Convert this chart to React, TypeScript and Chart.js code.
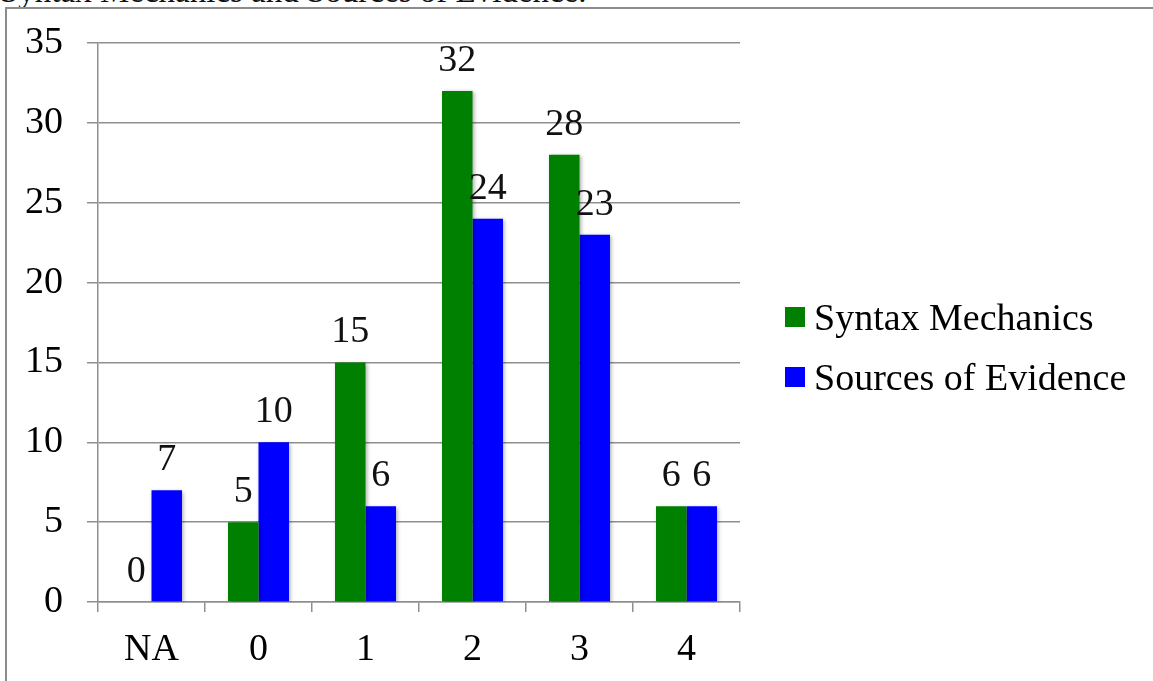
import React, { useEffect, useRef } from "react";
import { Chart, registerables } from "chart.js";

Chart.register(...registerables);

// Categories along the x axis and the two series plotted against them
const categories = ["NA", "0", "1", "2", "3", "4"];
const syntaxMechanics = [0, 5, 15, 32, 28, 6];
const sourcesOfEvidence = [7, 10, 6, 24, 23, 6];
const seriesNames = ["Syntax Mechanics", "Sources of Evidence"];
const seriesColors = ["#008000", "#0000ff"];
const yMin = 0;
const yMax = 35;
const yStep = 5;

const FONT_FAMILY = "'Liberation Serif', 'Times New Roman', serif";
const GRID = "#8f8f8f";

// Soft drop shadow behind the bars
const barShadow = {
  id: "barShadow",
  beforeDatasetsDraw(chart: any) {
    const ctx = chart.ctx;
    ctx.save();
    ctx.shadowColor = "rgba(0,0,0,0.35)";
    ctx.shadowBlur = 4;
    ctx.shadowOffsetX = 1.5;
    ctx.shadowOffsetY = 1.5;
  },
  afterDatasetsDraw(chart: any) {
    chart.ctx.restore();
  },
};

// Value written above every bar
const valueLabels = {
  id: "valueLabels",
  afterDraw(chart: any) {
    const ctx = chart.ctx;
    ctx.save();
    ctx.font = `38px ${FONT_FAMILY}`;
    ctx.fillStyle = "#111";
    ctx.textAlign = "center";
    ctx.textBaseline = "alphabetic";
    chart.data.datasets.forEach((ds: any, i: number) => {
      const meta = chart.getDatasetMeta(i);
      meta.data.forEach((el: any, j: number) => {
        ctx.fillText(String(ds.data[j]), el.x, el.y - 20);
      });
    });
    ctx.restore();
  },
};

function BarChart() {
  const canvasRef = useRef<HTMLCanvasElement | null>(null);

  useEffect(() => {
    if (!canvasRef.current) return;
    const chart = new Chart(canvasRef.current, {
      type: "bar",
      data: {
        labels: categories,
        datasets: [
          {
            label: seriesNames[0],
            data: syntaxMechanics,
            backgroundColor: seriesColors[0],
            categoryPercentage: 0.57,
            barPercentage: 1,
          },
          {
            label: seriesNames[1],
            data: sourcesOfEvidence,
            backgroundColor: seriesColors[1],
            categoryPercentage: 0.57,
            barPercentage: 1,
          },
        ],
      },
      options: {
        responsive: false,
        animation: false,
        devicePixelRatio: 1,
        layout: { padding: { left: 0, right: 413, top: 43, bottom: 0 } },
        plugins: {
          legend: { display: false },
          tooltip: { enabled: false },
          title: { display: false },
        },
        scales: {
          x: {
            grid: {
              display: true,
              drawOnChartArea: false,
              drawTicks: true,
              tickLength: 10,
              color: GRID,
              lineWidth: 1.5,
              offset: true,
            },
            border: { display: true, color: GRID, width: 1.5 },
            ticks: {
              color: "#000",
              padding: 15,
              font: { family: FONT_FAMILY, size: 38 },
            },
            afterFit: (s: any) => {
              s.height = 79;
            },
          },
          y: {
            min: yMin,
            max: yMax,
            ticks: {
              stepSize: yStep,
              color: "#000",
              padding: 24,
              font: { family: FONT_FAMILY, size: 38 },
            },
            grid: { color: GRID, lineWidth: 1.5, tickLength: 11, drawTicks: true },
            border: { display: true, color: GRID, width: 1.5 },
            afterFit: (s: any) => {
              s.width = 98;
              s.paddingTop = 20;
              s.paddingBottom = 20;
            },
          },
        },
      },
      plugins: [barShadow, valueLabels],
    });
    return () => chart.destroy();
  }, []);

  return (
    <canvas
      ref={canvasRef}
      width={1153}
      height={681}
      style={{ position: "absolute", left: 0, top: 0, width: 1153, height: 681 }}
    />
  );
}

export default function App() {
  return (
    <div
      style={{
        position: "absolute",
        left: 0,
        top: 0,
        width: 1153,
        height: 681,
        overflow: "hidden",
        background: "#fff",
        fontFamily: FONT_FAMILY,
      }}
    >
      <div
        style={{
          position: "absolute",
          left: 0,
          top: -25,
          fontSize: 33,
          lineHeight: "32px",
          whiteSpace: "nowrap",
          color: "#111",
        }}
      >
        Syntax Mechanics and Sources of Evidence.
      </div>
      <div
        style={{
          position: "absolute",
          left: 5,
          top: 7,
          width: 1160,
          height: 700,
          borderLeft: "2px solid #8c8c8c",
          borderTop: "2px solid #8c8c8c",
          boxSizing: "border-box",
        }}
      />
      <BarChart />
      {seriesNames.map((name, i) => (
        <div
          key={name}
          style={{
            position: "absolute",
            left: 785,
            top: 297 + i * 60,
            height: 40,
            display: "flex",
            alignItems: "center",
            whiteSpace: "nowrap",
          }}
        >
          <span
            style={{
              display: "inline-block",
              width: 20,
              height: 20,
              background: seriesColors[i],
              marginRight: 9,
            }}
          />
          <span style={{ fontSize: 38, lineHeight: "40px", color: "#000" }}>{name}</span>
        </div>
      ))}
    </div>
  );
}
